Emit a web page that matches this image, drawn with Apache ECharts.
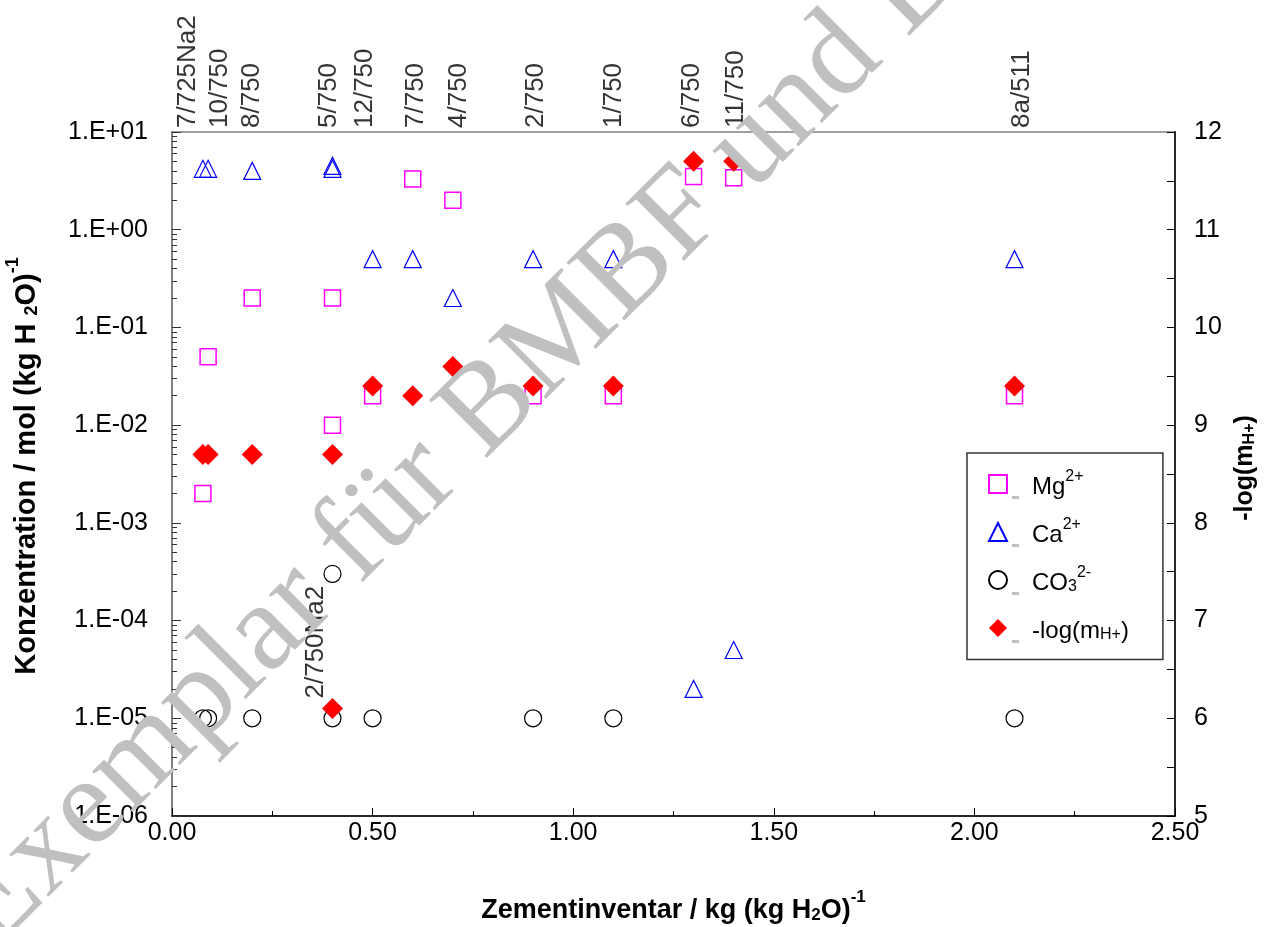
<!DOCTYPE html>
<html>
<head>
<meta charset="utf-8">
<script src="https://cdn.jsdelivr.net/npm/echarts@6/dist/echarts.min.js"></script>
<style>
html,body{margin:0;padding:0;background:#fff;}
#chart{width:1279px;height:927px;}
</style>
</head>
<body>
<div id="chart"></div>
<script>
// ---------------- data ----------------
const sampleNames = ['7/725Na2','10/750','8/750','5/750','2/750Na2','12/750','7/750','4/750','2/750','1/750','6/750','11/750','8a/511'];
const cementInventory = [0.077, 0.09, 0.2, 0.4, 0.4, 0.5, 0.6, 0.7, 0.9, 1.1, 1.3, 1.4, 2.1];
const mgConc  = [0.002, 0.05, 0.2, 0.2, 0.01, 0.02, 3.3, 2.0, 0.02, 0.02, 3.5, 3.4, 0.02];
const caConc  = [4.2, 4.2, 4.0, 4.2, 4.5, 0.5, 0.5, 0.2, 0.5, 0.5, 2e-5, 5e-5, 0.5];
const co3Conc = [1e-5, 1e-5, 1e-5, 1e-5, 3e-4, 1e-5, null, null, 1e-5, 1e-5, null, null, 1e-5];
const negLogH = [8.7, 8.7, 8.7, 8.7, 6.1, 9.4, 9.3, 9.6, 9.4, 9.4, 11.7, 11.7, 9.4];
const leftTickLabels  = ['1.E-06','1.E-05','1.E-04','1.E-03','1.E-02','1.E-01','1.E+00','1.E+01'];
const xTickLabels     = ['0.00','0.50','1.00','1.50','2.00','2.50'];
const rightTickLabels = ['5','6','7','8','9','10','11','12'];
const seriesNames = ['Mg2+','Ca2+','CO32-','-log(mH+)'];
const insideLabelSamples = ['2/750Na2'];
const watermarkText = 'Exemplar für BMBF und DBE';

// ---------------- style ----------------
const FONT = '"Liberation Sans", Arial, sans-serif';
// horizontal nudges (px) of the rotated sample labels
const labelShift = { '7/725Na2': -15, '10/750': 12, '8/750': 0, '5/750': -4, '2/750Na2': -17,
  '12/750': -8, '7/750': 3, '4/750': 6, '2/750': 3, '1/750': 1, '6/750': -2, '11/750': 2, '8a/511': 7 };
const legendText = {
  'Mg2+': '{t|Mg}{sup|2+}',
  'Ca2+': '{t|Ca}{sup|2+}',
  'CO32-': '{t|CO}{sub|3}{sup|2-}',
  '-log(mH+)': '{t|-log(m}{sub|H+}{t|)}'
};

function pairs(vals) {
  const out = [];
  cementInventory.forEach((x, i) => { if (vals[i] != null) out.push([x, vals[i]]); });
  return out;
}

const topLabelData = [];
const insideLabelData = [];
sampleNames.forEach((n, i) => {
  const shift = labelShift[n] || 0;
  if (insideLabelSamples.includes(n)) {
    insideLabelData.push({ name: n, value: [cementInventory[i], negLogH[i]],
      label: { offset: [10, shift] } });
  } else {
    topLabelData.push({ name: n, value: [cementInventory[i], 10],
      label: { offset: [0, shift] } });
  }
});

const rotLabel = {
  show: true, formatter: p => p.name, position: 'top', distance: 4, rotate: 90,
  align: 'left', verticalAlign: 'middle', fontSize: 26, fontFamily: FONT, color: '#000'
};

const boldRich = (fs, small) => ({
  t: { fontSize: fs, fontWeight: 'bold', fontFamily: FONT, color: '#000', lineHeight: fs + 8, verticalAlign: 'bottom' },
  sub: { fontSize: small, fontWeight: 'bold', fontFamily: FONT, color: '#000', lineHeight: fs + 8, verticalAlign: 'bottom' },
  sup: { fontSize: small, fontWeight: 'bold', fontFamily: FONT, color: '#000', lineHeight: fs + 8, verticalAlign: 'top' }
});

const chart = echarts.init(document.getElementById('chart'), null, { renderer: 'canvas' });
const option = {
  backgroundColor: '#fff',
  animation: false,
  textStyle: { fontFamily: FONT },
  grid: { left: 172, right: 104, top: 132, bottom: 111, show: true, borderColor: '#a0a0a0', borderWidth: 2,
    backgroundColor: 'transparent', containLabel: false, outerBoundsMode: 'none' },
  xAxis: {
    type: 'value', min: 0, max: 2.5, interval: 0.5,
    axisLine: { show: true, lineStyle: { color: '#000', width: 1.5 } },
    axisTick: { show: true, inside: true, length: 8, lineStyle: { color: '#000', width: 1 } },
    minorTick: { show: true, splitNumber: 2, length: 5, lineStyle: { color: '#000', width: 1 } },
    splitLine: { show: false },
    axisLabel: { fontSize: 25, color: '#000', margin: 5, fontFamily: FONT,
      formatter: v => xTickLabels[Math.round(v / 0.5)] },
    name: '{t|Zementinventar / kg (kg H}{sub|2}{t|O)}{sup|-1}',
    nameLocation: 'middle', nameGap: 73,
    nameTextStyle: { fontFamily: FONT, color: '#000', rich: boldRich(27, 17) }
  },
  yAxis: [{
    type: 'log', logBase: 10, min: 1e-6, max: 10, interval: 1,
    position: 'left',
    axisLine: { show: true, lineStyle: { color: '#808080', width: 2 } },
    axisTick: { show: true, inside: true, length: 9, lineStyle: { color: '#333', width: 1 } },
    minorTick: { show: true, splitNumber: 9, length: 5, lineStyle: { color: '#333', width: 1 } },
    splitLine: { show: false },
    axisLabel: { fontSize: 25, color: '#000', margin: 24, fontFamily: FONT,
      formatter: v => leftTickLabels[Math.round(Math.log10(v)) + 6] },
    name: '{t|Konzentration / mol (kg H }{sub|2}{t|O)}{sup|-1}',
    nameLocation: 'middle', nameRotate: 90, nameGap: 131,
    nameTextStyle: { fontFamily: FONT, color: '#000', padding: [0, 0, 0, 16], rich: boldRich(29, 18) }
  }, {
    type: 'value', min: 5, max: 12, interval: 1,
    position: 'right',
    axisLine: { show: true, lineStyle: { color: '#000', width: 1.5 } },
    axisTick: { show: true, inside: true, length: 8, lineStyle: { color: '#000', width: 1 } },
    minorTick: { show: true, splitNumber: 2, length: 8, lineStyle: { color: '#000', width: 1 } },
    splitLine: { show: false },
    axisLabel: { fontSize: 25, color: '#000', margin: 19, fontFamily: FONT,
      formatter: v => rightTickLabels[Math.round(v) - 5] },
    name: '{t|-log(m}{sub|H+}{t|)}',
    nameLocation: 'middle', nameRotate: 90, nameGap: 50,
    nameTextStyle: { fontFamily: FONT, color: '#000', padding: [0, 0, 0, 12], rich: boldRich(25, 16) }
  }],
  legend: {
    data: seriesNames,
    orient: 'vertical', left: 967, top: 453,
    padding: [16, 34, 6, 21], itemGap: 7.5, itemWidth: 18, itemHeight: 18, itemTextGap: 8,
    borderColor: '#333', borderWidth: 1.5, backgroundColor: '#fff',
    formatter: name => '{dash| }{sp| }' + legendText[name],
    textStyle: { fontSize: 24, color: '#000', fontFamily: FONT, lineHeight: 30, rich: {
      dash: { width: 7, height: 3, backgroundColor: '#c0c0c0', verticalAlign: 'bottom', lineHeight: 12 },
      sp: { width: 13 },
      t: { fontSize: 24, fontFamily: FONT, color: '#000', lineHeight: 30, verticalAlign: 'bottom' },
      sup: { fontSize: 16, fontFamily: FONT, color: '#000', lineHeight: 30, verticalAlign: 'top' },
      sub: { fontSize: 16, fontFamily: FONT, color: '#000', lineHeight: 24, verticalAlign: 'bottom' }
    } }
  },
  series: [{
    name: 'Mg2+', type: 'scatter', yAxisIndex: 0, symbol: 'rect', symbolSize: 16,
    itemStyle: { color: 'rgba(255,255,255,0)', borderColor: '#ff00ff', borderWidth: 1.5, opacity: 1 },
    data: pairs(mgConc)
  }, {
    name: 'Ca2+', type: 'scatter', yAxisIndex: 0, symbol: 'triangle', symbolSize: [17, 17],
    itemStyle: { color: 'rgba(255,255,255,0)', borderColor: '#0000ff', borderWidth: 1.2, opacity: 1 },
    data: pairs(caConc)
  }, {
    name: 'CO32-', type: 'scatter', yAxisIndex: 0, symbol: 'circle', symbolSize: 17,
    itemStyle: { color: 'rgba(255,255,255,0)', borderColor: '#000', borderWidth: 1.2, opacity: 1 },
    data: pairs(co3Conc)
  }, {
    name: '-log(mH+)', type: 'scatter', yAxisIndex: 1, symbol: 'diamond', symbolSize: 21,
    itemStyle: { color: '#ff0000', opacity: 1 },
    data: pairs(negLogH)
  }, {
    name: 'sampleLabels', type: 'scatter', yAxisIndex: 0, symbolSize: 0, silent: true, clip: false,
    label: rotLabel, data: topLabelData
  }, {
    name: 'sampleLabelsInside', type: 'scatter', yAxisIndex: 1, symbolSize: 0, silent: true, clip: false,
    label: Object.assign({}, rotLabel, { distance: 0 }), data: insideLabelData
  }],
  graphic: [{
    type: 'text', x: -74, y: 884, rotation: 45 * Math.PI / 180, z: 100, silent: true,
    style: { text: watermarkText, font: 'normal 125px "Liberation Serif", "DejaVu Serif", serif',
      fill: '#c0c0c0', blend: 'multiply', textAlign: 'left', textVerticalAlign: 'top' }
  }]
};
chart.setOption(option);
</script>
</body>
</html>
